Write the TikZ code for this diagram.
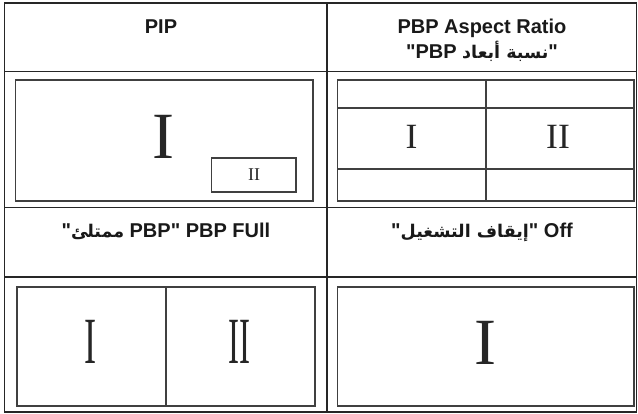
\documentclass[tikz,border=0pt]{standalone}
\usepackage{fontspec}
\setmainfont{Liberation Serif}
\setsansfont{Liberation Sans}[Ligatures=TeXOff]
\newfontfamily\arabicfont[Script=Arabic,Ligatures=TeXOff]{DejaVu Sans}
\TeXXeTstate=1
\usetikzlibrary{positioning}

\newcommand{\arab}[1]{{\arabicfont\bfseries\fontsize{17.5}{20}\selectfont\beginR #1\endR}}
\newcommand{\narrow}[2]{\scalebox{#1}[1]{#2}}

\begin{document}
\begin{tikzpicture}[x=1pt, y=-1pt,
  grid/.style={line width=1.8pt, draw=black!85},
  screen/.style={line width=1.1pt, draw=black!75},
  head/.style={font=\sffamily\bfseries\fontsize{20}{24}\selectfont, anchor=base, inner sep=0pt, text=black!90},
  numeral/.style={font=\fontsize{#1}{#1}\selectfont, inner sep=0pt, text=black!85},
]
\useasboundingbox (0,0) rectangle (638,413);
% table
\draw[grid] (4.5,3) rectangle (636.5,412);
\draw[grid] (327,3) -- (327,412);
\draw[grid] (4.5,71.5) -- (636.5,71.5);
\draw[grid] (4.5,207.5) -- (636.5,207.5);
\draw[grid] (4.5,277) -- (636.5,277);

% headers
\node[head] (pip) at (161,33) {PIP};
\node[head] (aspect) at (482,33) {PBP Aspect Ratio};
\node[head] (aspectar) at (482,58) {"PBP \arab{نسبة أبعاد}"};
\node[head] (full) at (166,237) {"\arab{ممتلئ} PBP" PBP FUll};
\node[head] (off) at (482,237) {"\arab{إيقاف التشغيل}" Off};

% PIP
\draw[screen] (15.5,80) rectangle (313,201);
\draw[screen] (211.5,158) rectangle (296,192);
\node[numeral=66] (pipmain) at (163.5,136.5) {I};
\node[numeral=18] (pipsub) at (254,175) {II};

% PBP aspect ratio
\draw[screen] (337.5,80) rectangle (634,201);
\draw[screen] (486,80) -- (486,201);
\draw[screen] (337.5,108) -- (634,108);
\draw[screen] (337.5,169) -- (634,169);
\node[numeral=35.5] (aspectone) at (411.5,136.5) {I};
\node[numeral=35.5] (aspecttwo) at (558,136.5) {II};

% PBP full
\draw[screen] (17,287) rectangle (315,406);
\draw[screen] (166,287) -- (166,406);
\node[numeral=66] (fullone) at (90.5,342) {\narrow{0.55}{I}};
\node[numeral=66] (fulltwo) at (239,342) {\narrow{0.5}{II}};

% off
\draw[screen] (337.5,287) rectangle (634,406);
\node[numeral=66] (offmain) at (485,342.5) {I};
\end{tikzpicture}
\end{document}
